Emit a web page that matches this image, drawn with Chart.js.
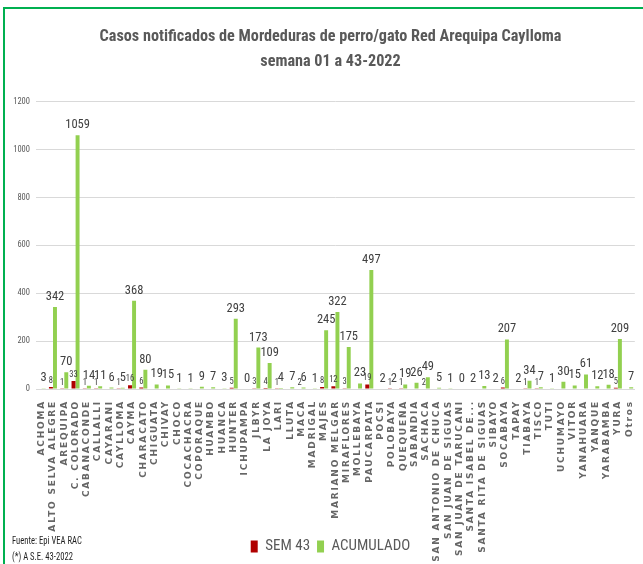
<!DOCTYPE html>
<html>
<head>
<meta charset="utf-8">
<script src="https://cdn.jsdelivr.net/npm/chart.js@4.4.1/dist/chart.umd.min.js"></script>
<style>
  html, body { margin: 0; padding: 0; background: #ffffff; }
  #wrap { position: relative; width: 643px; height: 564px; overflow: hidden; }
  #frame { position: absolute; left: 3px; top: 7px; right: -5px; bottom: -5px;
           border-left: 2px solid #00b050; border-top: 2px solid #00b050; pointer-events: none; }
  canvas { display: block; }
</style>
</head>
<body>
<div id="wrap">
  <canvas id="c" width="643" height="564"></canvas>
  <div id="frame"></div>
</div>
<script>
const categories = [
  'ACHOMA', 'ALTO SELVA ALEGRE', 'AREQUIPA', 'C. COLORADO', 'CABANACONDE', 'CALLALLI',
  'CAYARANI', 'CAYLLOMA', 'CAYMA', 'CHARACATO', 'CHIGUATA', 'CHIVAY', 'CHOCO',
  'COCACHACRA', 'COPORAQUE', 'HUAMBO', 'HUANCA', 'HUNTER', 'ICHUPAMPA', 'JLBYR',
  'LA JOYA', 'LARI', 'LLUTA', 'MACA', 'MADRIGAL', 'MAJES', 'MARIANO MELGAR',
  'MIRAFLORES', 'MOLLEBAYA', 'PAUCARPATA', 'POCSI', 'POLOBAYA', 'QUEQUEÑA', 'SABANDIA',
  'SACHACA', 'SAN ANTONIO DE CHUCA', 'SAN JUAN DE SIGUAS', 'SAN JUAN DE TARUCANI',
  'SANTA ISABEL DE...', 'SANTA RITA DE SIGUAS', 'SIBAYO', 'SOCABAYA', 'TAPAY', 'TIABAYA',
  'TISCO', 'TUTI', 'UCHUMAYO', 'VITOR', 'YANAHUARA', 'YANQUE', 'YARABAMBA', 'YURA', 'Otros'
];

const sem43 = [
  null, 8, 1, 33, 1, 1,
  null, 1, 16, 6, null, null, null,
  null, null, null, null, 5, null, 3,
  4, 1, null, 2, null, 8, 12,
  3, null, 19, null, 1, 1, null,
  2, null, null, null,
  null, null, null, 6, null, 1,
  1, null, null, null, null, null, null, 5, null
];

const acumulado = [
  3, 342, 70, 1059, 14, 11,
  6, 5, 368, 80, 19, 15, 1,
  1, 9, 7, 3, 293, 0, 173,
  109, 4, 7, 6, 1, 245, 322,
  175, 23, 497, 2, 2, 19, 26,
  49, 5, 1, 0,
  2, 13, 2, 207, 2, 34,
  7, 1, 30, 15, 61, 12, 18, 209, 7
];

const seriesNames = ['SEM 43', 'ACUMULADO'];
const titleLines = ['Casos notificados de Mordeduras de perro/gato Red Arequipa Caylloma', 'semana 01 a 43-2022'];
const footnotes = ['Fuente: Epi VEA RAC', '(*) A S.E. 43-2022'];

const NARROW = '"Liberation Sans Narrow", "Arial Narrow", "Roboto Condensed", "Liberation Sans", sans-serif';

const valueLabels = {
  id: 'valueLabels',
  afterLayout(chart) {
    // let the rotated category labels run down to the bottom of the canvas,
    // and the value-axis labels use the room left of the narrow axis box
    chart.scales.x.bottom = chart.height;
    chart.scales.y.left = 0;
  },
  afterDatasetsDraw(chart) {
    const ctx = chart.ctx;
    chart.data.datasets.forEach((ds, di) => {
      const meta = chart.getDatasetMeta(di);
      meta.data.forEach((bar, i) => {
        const v = ds.data[i];
        if (v === null || v === undefined) return;
        ctx.save();
        ctx.font = (di === 0 ? '8.5px ' : '12.5px ') + NARROW;
        ctx.fillStyle = '#404040';
        ctx.textAlign = 'center';
        ctx.textBaseline = 'alphabetic';
        ctx.fillText(String(v), bar.x, bar.y - (di === 0 ? 4 : 7));
        ctx.restore();
      });
    });
    // spaced lettering for the category labels drawn next (ticks z:1)
    ctx.letterSpacing = '1.8px';
  },
  afterDraw(chart) {
    const ctx = chart.ctx;
    ctx.letterSpacing = '0px';
    ctx.save();
    ctx.fillStyle = '#1f1f1f';
    ctx.textAlign = 'left';
    ctx.textBaseline = 'alphabetic';
    ctx.font = '10.5px ' + NARROW;
    ctx.setTransform(0.82, 0, 0, 1, 12, 0);
    ctx.fillText(footnotes[0], 0, 544);
    ctx.fillText(footnotes[1], 0, 560);
    ctx.restore();
  }
};

new Chart(document.getElementById('c'), {
  type: 'bar',
  data: {
    labels: categories,
    datasets: [
      { label: seriesNames[0], data: sem43, backgroundColor: '#b00000',
        categoryPercentage: 0.72, barPercentage: 0.97 },
      { label: seriesNames[1], data: acumulado, backgroundColor: '#92d050',
        categoryPercentage: 0.72, barPercentage: 0.97 }
    ]
  },
  options: {
    responsive: false,
    animation: false,
    devicePixelRatio: 1,
    layout: { padding: { left: 22, right: 4, top: 0, bottom: 0 } },
    plugins: {
      tooltip: { enabled: false },
      title: {
        display: true,
        text: titleLines,
        color: '#595959',
        font: { family: NARROW, size: 16.2, weight: 'bold', lineHeight: 1.5 },
        padding: { top: 25, bottom: 28 }
      },
      legend: {
        position: 'bottom',
        labels: {
          boxWidth: 7, boxHeight: 12, padding: 7,
          color: '#595959',
          font: { family: NARROW, size: 15 }
        }
      }
    },
    scales: {
      x: {
        grid: { display: false },
        border: { display: true, color: '#d9d9d9' },
        ticks: {
          autoSkip: false, minRotation: 90, maxRotation: 90, padding: 3, z: 1,
          color: '#666666',
          font: { family: '"DejaVu Sans", Verdana, sans-serif', size: 9, weight: 'bold' }
        },
        afterFit(scale) { scale.height = 143; }
      },
      y: {
        min: 0, max: 1200,
        grid: { color: '#d9d9d9', drawTicks: false },
        border: { display: false },
        ticks: {
          stepSize: 200, padding: 6,
          color: '#595959',
          font: { family: NARROW, size: 8.5 },
          callback: (v) => String(v)
        },
        afterFit(scale) { scale.width = 14; }
      }
    }
  },
  plugins: [valueLabels]
});
</script>
</body>
</html>
